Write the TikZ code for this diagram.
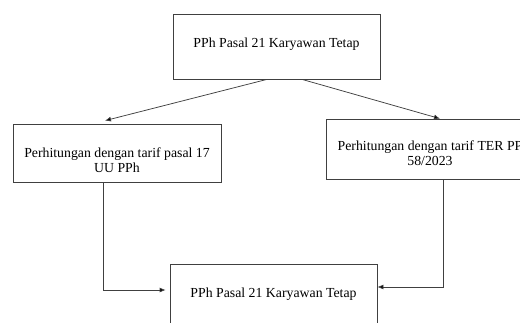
\documentclass[tikz,border=0pt]{standalone}
\usepackage{fontspec}
\setmainfont{Liberation Serif}
\usepackage{tikz}
\usetikzlibrary{positioning,arrows.meta}

\begin{document}
\begin{tikzpicture}[
            x=1pt, y=-1pt,
            every node/.style={draw=black!75, line width=0.75pt, rectangle, inner sep=0pt, align=center,
                    font=\fontsize{13.8}{15}\selectfont},
            mainbox/.style={minimum width=207pt, minimum height=65pt, text height=10pt, text depth=9pt},
            sidebox/.style={minimum width=208pt, text depth=2pt},
            link/.style={draw=black!75, line width=0.75pt, -{Latex[length=6pt, width=5pt, fill=black]}}
        ]
        \useasboundingbox (0,0) rectangle (520,322);
        \node[mainbox] (pph) at (276.5,46.5) {PPh Pasal 21 Karyawan Tetap};
        \node[sidebox, minimum height=58pt, text height=40pt] (pasal) at (117,153)
            {Perhitungan dengan tarif pasal 17\\UU PPh};
        \node[sidebox, minimum height=60pt, text height=34pt] (ter) at (430,149)
            {Perhitungan dengan tarif TER PP\\58/2023};
        \node[mainbox] (hasil) at (273.5,296.5) {PPh Pasal 21 Karyawan Tetap};
        \draw[link] ([xshift=-9.5pt]pph.south) -- ([xshift=-12pt, yshift=3pt]pasal.north);
        \draw[link] ([xshift=25.5pt]pph.south) -- ([xshift=10pt]ter.north);
        \draw[link] ([xshift=-14pt]pasal.south) |- ([xshift=-4pt, yshift=6.5pt]hasil.west);
        \draw[link] ([xshift=13pt]ter.south) |- ([yshift=9.5pt]hasil.east);
    \end{tikzpicture}
\end{document}
